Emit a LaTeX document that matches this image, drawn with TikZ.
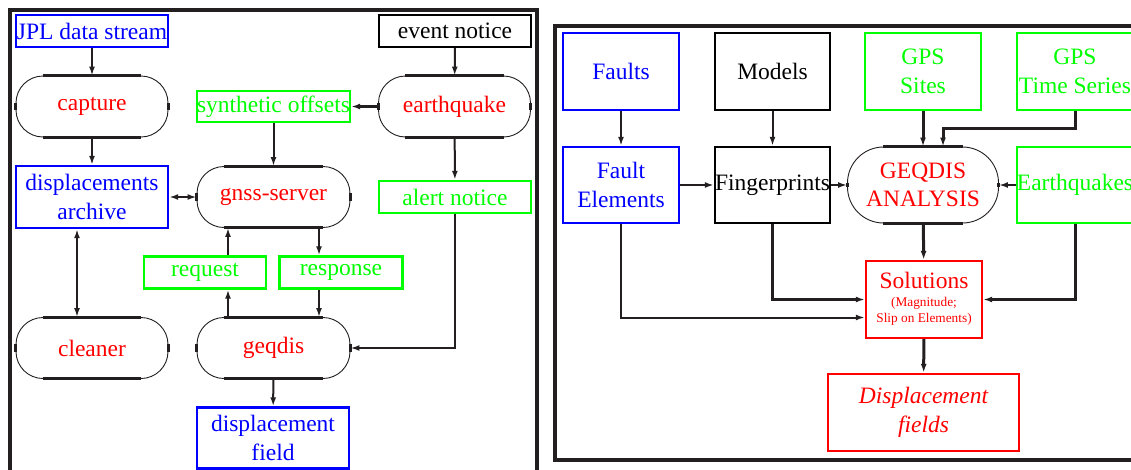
\documentclass[tikz,border=0pt]{standalone}
\usepackage{fontspec}
\setmainfont{Liberation Serif}
\newfontfamily\timesf{Liberation Serif}
\usepackage{xcolor}
\usepackage{tikz}
\usetikzlibrary{arrows.meta}
\definecolor{ink}{RGB}{35,31,32}
\newcommand\bigtxt{\timesf\fontsize{23.5}{28.5}\selectfont}
\newcommand\smalltxt{\timesf\fontsize{13.3}{15.8}\selectfont}

\begin{document}
\begin{tikzpicture}[x=1pt, y=-1pt,
    every node/.style={font=\bigtxt, align=center, inner sep=0pt},
    box/.style={draw, line width=2.4pt, minimum width=152pt, minimum height=32pt},
    bluebox/.style={box, draw=blue, text=blue},
    greenbox/.style={box, draw=green, text=green},
    blackbox/.style={box, draw=black, text=black},
    redbox/.style={box, draw=red, text=red},
    pill/.style={draw=ink, line width=0.9pt, rounded corners=27pt, text=red,
                 minimum width=152pt, minimum height=61pt},
    flat/.style={ink, line width=3pt},
    arr/.style={ink, line width=2pt, -{Latex[length=9pt, width=6pt]}},
    dbl/.style={ink, line width=2pt, {Latex[length=9pt, width=6pt]}-{Latex[length=9pt, width=6pt]}},
    heavy/.style={line width=3pt},
    frame/.style={ink, line width=4pt},
]
\useasboundingbox (0,0) rectangle (1131,469);
\clip (0,0) rectangle (1131,469);

% left panel
\draw[frame] (9.5,9.5) rectangle (537,520);
\node[bluebox]                          (jpl)      at (92,31)     {JPL data stream};
\node[blackbox]                         (event)    at (455,31)    {event notice};
\node[pill]                             (capture)  at (92,106.5)  {capture};
\node[greenbox, minimum width=153pt, minimum height=31pt]
                                        (synth)    at (273.5,106.5) {synthetic offsets};
\node[pill]                             (quake)    at (454.5,106.5) {earthquake};
\node[bluebox, minimum height=62pt]     (archive)  at (92,197)    {displacements\\archive};
\node[pill, minimum width=153pt]        (gnss)     at (273.5,197) {gnss-server};
\node[greenbox]                         (alert)    at (455,197)   {alert notice};
\node[greenbox, minimum width=122pt]    (request)  at (205,272.5) {request};
\node[greenbox, minimum width=123pt]    (response) at (341,272.5) {response};
\node[pill]                             (cleaner)  at (92,348)    {cleaner};
\node[pill, minimum width=153pt]        (geqdis)   at (273.5,348) {geqdis};
\node[bluebox, minimum height=61pt]     (field)    at (273,438)   {displacement\\field};

\coordinate (ac) at (77,0);
\coordinate (rq) at (228,0);
\coordinate (rs) at (319,0);

\draw[arr] (jpl) -- (capture);
\draw[arr] (capture) -- (archive);
\draw[dbl] (archive) -- (gnss);
\draw[dbl] (ac |- archive.south) -- (ac |- cleaner.north);
\draw[arr] (event) -- (quake);
\draw[arr, heavy] (quake) -- (synth);
\draw[arr] (synth) -- (gnss);
\draw[arr] (quake) -- (alert);
\draw[arr] (alert.south) |- (geqdis.east);
\draw[arr] (rq |- geqdis.north) -- (rq |- request.south);
\draw[arr] (rq |- request.north) -- (rq |- gnss.south);
\draw[arr] (rs |- gnss.south) -- (rs |- response.north);
\draw[arr] (rs |- response.south) -- (rs |- geqdis.north);
\draw[arr] (geqdis) -- (field);

% right panel
\draw[frame] (555,26) rectangle (1200,460);
\node[bluebox, minimum width=116pt, minimum height=77pt]  (faults)       at (621,71.5)    {Faults};
\node[blackbox, minimum width=115pt, minimum height=77pt] (models)       at (772.5,71.5)  {Models};
\node[greenbox, minimum width=116pt, minimum height=77pt] (sites)        at (923,71.5)    {GPS\\Sites};
\node[greenbox, minimum width=116pt, minimum height=77pt] (series)       at (1075,71.5)   {GPS\\Time Series};
\node[bluebox, minimum width=116pt, minimum height=76pt]  (elements)     at (621,185)     {Fault\\Elements};
\node[blackbox, minimum width=115pt, minimum height=76pt] (fingerprints) at (772.5,185)   {Fingerprints};
\node[pill, rounded corners=36pt, minimum width=151pt, minimum height=76pt]
                                                          (analysis)     at (923,185)     {GEQDIS\\ANALYSIS};
\node[greenbox, minimum width=116pt, minimum height=76pt] (quakes)       at (1075,185)    {Earthquakes};
\node[redbox, minimum width=116pt, minimum height=77pt]   (solutions)    at (924,299.5)
    {Solutions\\[-2pt]{\smalltxt\begin{tabular}{@{}c@{}}(Magnitude;\\Slip on Elements)\end{tabular}}};
\node[redbox, minimum width=191pt, minimum height=77pt, font=\bigtxt\itshape]
                                                          (dfields)      at (923.5,412.5) {Displacement\\fields};

\coordinate (tsb) at (943,128);

\draw[arr] (faults) -- (elements);
\draw[arr] (models) -- (fingerprints);
\draw[arr, heavy] (sites) -- (analysis);
\draw[arr, heavy] (series.south) |- (tsb) -- (tsb |- analysis.north);
\draw[arr] (elements) -- (fingerprints);
\draw[arr] (fingerprints) -- (analysis);
\draw[arr] (quakes) -- (analysis);
\draw[arr, heavy] (analysis) -- (solutions);
\draw[arr, heavy] (quakes.south) |- (solutions.east);
\draw[arr, heavy] (fingerprints.south) |- (solutions.west);
\draw[arr] (elements.south) |- ([yshift=-18pt]solutions.west);
\draw[arr, heavy] (solutions) -- (dfields);

% flat parts of the pills
\foreach \n/\r in {capture/27, quake/27, gnss/27, cleaner/27, geqdis/27, analysis/36}{
  \draw[flat] ([xshift=\r pt]\n.north west) -- ([xshift=-\r pt]\n.north east)
              ([xshift=\r pt]\n.south west) -- ([xshift=-\r pt]\n.south east)
              ([yshift=-\r pt]\n.north west) -- ([yshift=\r pt]\n.south west)
              ([yshift=-\r pt]\n.north east) -- ([yshift=\r pt]\n.south east);
}
\end{tikzpicture}
\end{document}
